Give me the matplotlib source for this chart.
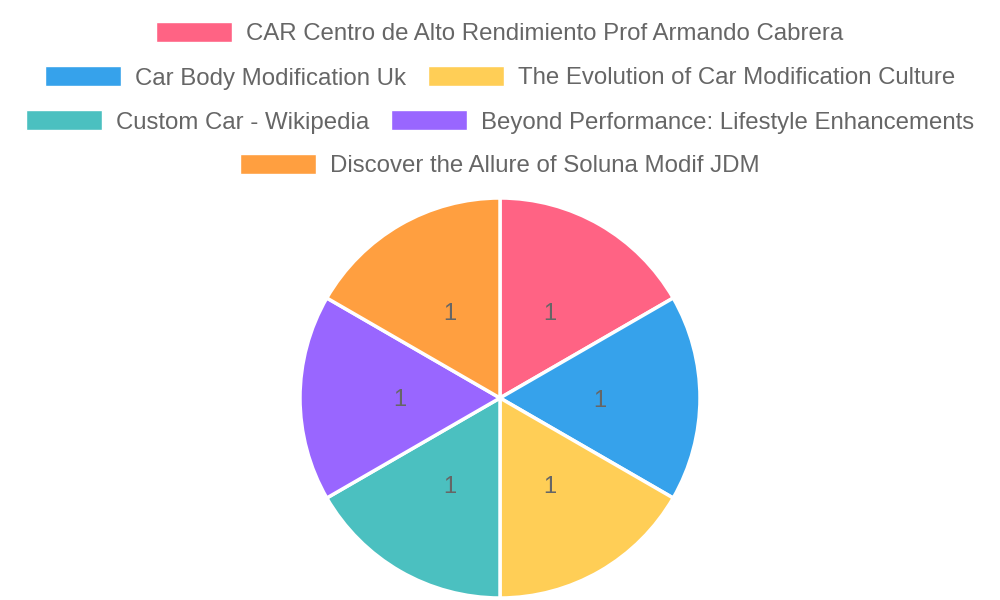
import matplotlib
matplotlib.use("Agg")
import numpy as np
import matplotlib.pyplot as plt
from matplotlib.patches import Rectangle

labels = ["CAR Centro de Alto Rendimiento Prof Armando Cabrera",
          "Car Body Modification Uk",
          "The Evolution of Car Modification Culture",
          "Custom Car - Wikipedia",
          "Beyond Performance: Lifestyle Enhancements",
          "Discover the Allure of Soluna Modif JDM"]
values = [1, 1, 1, 1, 1, 1]
colors = ["#FF6384", "#36A2EB", "#FFCE56", "#4BC0C0", "#9966FF", "#FF9F40"]
legend_rows = [[0], [1, 2], [3, 4], [5]]

plt.rcParams['font.family'] = ['Liberation Sans', 'DejaVu Sans']
W, H = 1000, 600
fig = plt.figure(figsize=(W / 100, H / 100), dpi=100)

# pie
cx, cy, R = 500, 398, 200
ax = fig.add_axes([(cx - R) / W, 1 - (cy + R) / H, 2 * R / W, 2 * R / H])
wedges, _ = ax.pie(values, colors=colors, startangle=90, counterclock=False,
                   wedgeprops=dict(edgecolor="white", linewidth=2.5))
ax.set_xlim(-1, 1)
ax.set_ylim(-1, 1)
ax.set_aspect("equal")
ax.axis("off")
for w, v in zip(wedges, values):
    ang = np.deg2rad((w.theta1 + w.theta2) / 2)
    ax.text(0.5 * np.cos(ang), 0.5 * np.sin(ang), str(v), ha="center",
            va="center_baseline", fontsize=17, color="#666666")

# legend
fig.canvas.draw()
renderer = fig.canvas.get_renderer()
box_w, box_h, gap_txt, gap_item = 76, 20, 14, 22
row_y = [32, 76, 120, 164]
for row, yc in zip(legend_rows, row_y):
    texts = []
    widths = []
    for i in row:
        t = fig.text(0, 1 - yc / H, labels[i], fontsize=17.3, color="#666666",
                     ha="left", va="center_baseline")
        tw = t.get_window_extent(renderer).width
        texts.append(t)
        widths.append(box_w + gap_txt + tw)
    total = sum(widths) + gap_item * (len(row) - 1)
    x = W / 2 - total / 2
    for i, t, wd in zip(row, texts, widths):
        fig.patches.append(Rectangle((x / W, 1 - (yc + box_h / 2) / H), box_w / W, box_h / H,
                                     transform=fig.transFigure, facecolor=colors[i],
                                     edgecolor="white", linewidth=1))
        t.set_x((x + box_w + gap_txt) / W)
        x += wd + gap_item

fig.savefig("out.png", dpi=100, facecolor="white")
